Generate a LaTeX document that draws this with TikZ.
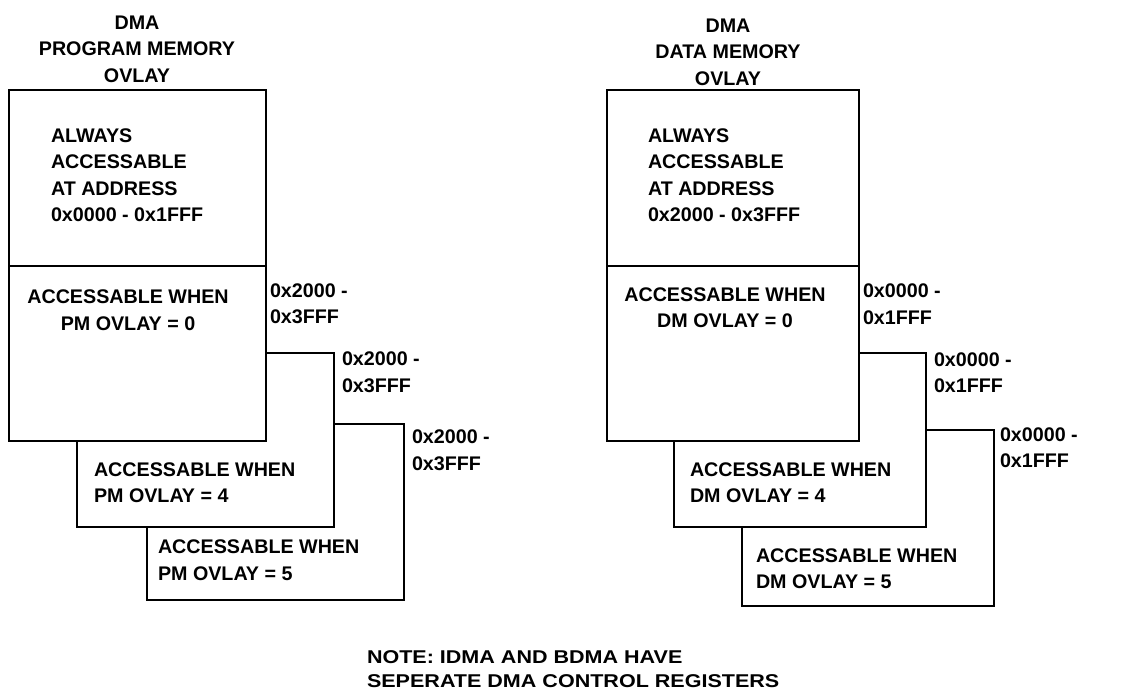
\documentclass[tikz,border=0pt]{standalone}
\usepackage{fontspec}
\setmainfont{Liberation Sans}
\begin{document}
\begin{tikzpicture}[x=1pt,y=-1pt,
  box/.style={draw=black, fill=white, line width=2.2pt, inner sep=0pt, outer sep=0pt, anchor=north west},
  txt/.style={font=\bfseries\fontsize{19.7}{26.5}\selectfont, inner sep=0pt, outer sep=0pt, anchor=north west, align=left},
  ctxt/.style={txt, anchor=north, align=center}]
\useasboundingbox (0,0) rectangle (1132,691);
% ---------- left: program memory ----------
\node[box, minimum width=257pt, minimum height=176pt] (L5) at (147,424) {};
\node[box, minimum width=257pt, minimum height=174pt] (L4) at (77,353) {};
\node[box, minimum width=257pt, minimum height=176pt] (Ltop) at (9,90) {};
\node[box, minimum width=257pt, minimum height=175pt] (L0) at (9,266) {};
\node[ctxt] (Ltitle) at (137,15.7) {DMA\\PROGRAM MEMORY\\OVLAY};
\node[txt] (Lalw) at (51,128.3) {ALWAYS\\ACCESSABLE\\AT ADDRESS\\0x0000 - 0x1FFF};
\node[ctxt] (L0t) at (128,290) {ACCESSABLE WHEN\\PM OVLAY = 0};
\node[txt] (L4t) at (94,462.3) {ACCESSABLE WHEN\\PM OVLAY = 4};
\node[txt] (L5t) at (158,540) {ACCESSABLE WHEN\\PM OVLAY = 5};
\node[txt] (L0a) at (270,283.5) {0x2000 -\\0x3FFF};
\node[txt] (L4a) at (342,352) {0x2000 -\\0x3FFF};
\node[txt] (L5a) at (412,430) {0x2000 -\\0x3FFF};
% ---------- right: data memory ----------
\node[box, minimum width=252pt, minimum height=176pt] (R5) at (742,430) {};
\node[box, minimum width=252pt, minimum height=174pt] (R4) at (674,353) {};
\node[box, minimum width=252pt, minimum height=176pt] (Rtop) at (607,90) {};
\node[box, minimum width=252pt, minimum height=175pt] (R0) at (607,266) {};
\node[ctxt] (Rtitle) at (728,18.5) {DMA\\DATA MEMORY\\OVLAY};
\node[txt] (Ralw) at (648,128.3) {ALWAYS\\ACCESSABLE\\AT ADDRESS\\0x2000 - 0x3FFF};
\node[ctxt] (R0t) at (725,287.5) {ACCESSABLE WHEN\\DM OVLAY = 0};
\node[txt] (R4t) at (690,462.3) {ACCESSABLE WHEN\\DM OVLAY = 4};
\node[txt] (R5t) at (756,548.3) {ACCESSABLE WHEN\\DM OVLAY = 5};
\node[txt] (R0a) at (863,284) {0x0000 -\\0x1FFF};
\node[txt] (R4a) at (934,352.5) {0x0000 -\\0x1FFF};
\node[txt] (R5a) at (1000,427.5) {0x0000 -\\0x1FFF};
% ---------- note ----------
\node[txt, font=\bfseries\fontsize{18.5}{24}\selectfont, xscale=1.164, transform shape] (note) at (367,651) {NOTE: IDMA AND BDMA HAVE\\SEPERATE DMA CONTROL REGISTERS};
\end{tikzpicture}
\end{document}
